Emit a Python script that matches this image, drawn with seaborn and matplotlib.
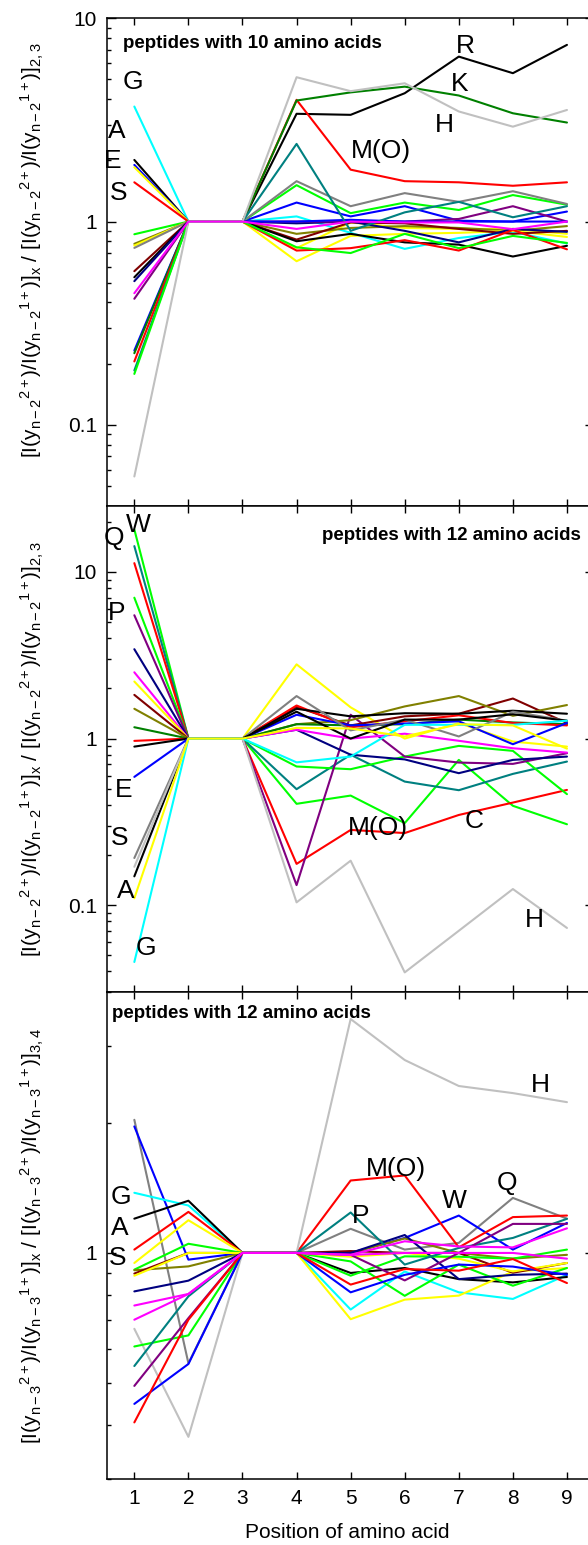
import matplotlib
matplotlib.use("Agg")
import matplotlib.pyplot as plt
import numpy as np
import pandas as pd
import seaborn as sns
from matplotlib.ticker import FixedLocator, FixedFormatter, NullFormatter

# ---------------- data ----------------
positions = [1, 2, 3, 4, 5, 6, 7, 8, 9]
x_tick_labels = ["1", "2", "3", "4", "5", "6", "7", "8", "9"]

COLORS = {
    "red": "#ff0000", "green": "#00ff00", "blue": "#0000ff", "magenta": "#ff00ff",
    "cyan": "#00ffff", "yellow": "#ffff00", "black": "#000000", "darkgreen": "#008000",
    "navy": "#000080", "maroon": "#800000", "purple": "#800080", "teal": "#008080",
    "olive": "#808000", "gray": "#808080", "silver": "#c0c0c0",
}

# panel 1: peptides with 10 amino acids (draw order = list order)
p1_names = ["cyan", "black", "blue", "yellow", "red", "green", "olive", "yellow2",
            "gray", "maroon", "black2", "navy", "purple", "blue2", "darkgreen",
            "red2", "teal", "green2", "silver", "magenta"]
p1_values = [
    [3.68, 1, 1, 1.06, 0.88, 0.734, 0.83, 0.89, 0.78],
    [2.01, 1, 1, 3.39, 3.35, 4.28, 6.48, 5.37, 7.40],
    [1.90, 1, 1, 1.24, 1.06, 1.19, 1.01, 1.00, 1.12],
    [1.85, 1, 1, 0.74, 0.99, 0.93, 0.92, 0.92, 0.87],
    [1.56, 1, 1, 3.97, 1.80, 1.58, 1.56, 1.50, 1.56],
    [0.866, 1, 1, 1.51, 1.10, 1.24, 1.14, 1.35, 1.21],
    [0.777, 1, 1, 0.87, 0.93, 0.95, 0.93, 0.90, 0.95],
    [0.762, 1, 1, 0.638, 0.85, 0.87, 0.88, 0.90, 0.84],
    [0.742, 1, 1, 1.58, 1.19, 1.38, 1.25, 1.41, 1.22],
    [0.570, 1, 1, 0.815, 0.99, 0.98, 0.92, 0.87, 0.90],
    [0.532, 1, 1, 0.80, 0.87, 0.79, 0.77, 0.673, 0.76],
    [0.509, 1, 1, 0.98, 1.00, 0.90, 0.79, 0.92, 0.89],
    [0.417, 1, 1, 1.00, 1.00, 1.00, 1.03, 1.19, 1.00],
    [0.232, 1, 1, 1.00, 1.02, 1.00, 1.00, 1.00, 1.00],
    [0.225, 1, 1, 3.94, 4.32, 4.61, 4.17, 3.41, 3.07],
    [0.205, 1, 1, 0.72, 0.74, 0.81, 0.72, 0.91, 0.73],
    [0.185, 1, 1, 2.41, 0.90, 1.11, 1.25, 1.05, 1.19],
    [0.178, 1, 1, 0.747, 0.70, 0.87, 0.74, 0.85, 0.785],
    [0.0557, 1, 1, 5.13, 4.38, 4.79, 3.48, 2.93, 3.54],
    [0.444, 1, 1, 0.92, 1.00, 0.99, 0.99, 0.917, 1.00],
]

# panel 2: peptides with 12 amino acids, ratio normalised to positions 2,3
p2_names = ["green2", "teal", "red2", "green", "purple", "navy", "magenta", "yellow",
            "maroon", "olive", "darkgreen", "red", "black", "blue", "gray", "black2",
            "silver", "cyan", "yellow2"]
p2_values = [
    [18.0, 1, 1, 0.406, 0.455, 0.311, 0.745, 0.395, 0.306],
    [14.3, 1, 1, 0.497, 0.80, 0.552, 0.49, 0.614, 0.728],
    [11.3, 1, 1, 0.177, 0.283, 0.271, 0.348, 0.413, 0.492],
    [7.01, 1, 1, 0.68, 0.655, 0.78, 0.904, 0.844, 0.464],
    [5.50, 1, 1, 0.132, 1.39, 0.78, 0.718, 0.705, 0.817],
    [3.44, 1, 1, 1.13, 0.80, 0.75, 0.62, 0.745, 0.78],
    [2.50, 1, 1, 1.13, 1.00, 1.07, 0.97, 0.875, 0.824],
    [2.20, 1, 1, 2.79, 1.54, 1.00, 1.24, 0.96, 0.895],
    [1.83, 1, 1, 1.55, 1.20, 1.36, 1.41, 1.74, 1.24],
    [1.51, 1, 1, 1.22, 1.29, 1.56, 1.80, 1.37, 1.59],
    [1.17, 1, 1, 1.22, 1.20, 1.22, 1.30, 1.25, 1.22],
    [0.969, 1, 1, 1.58, 1.17, 1.27, 1.38, 1.24, 1.20],
    [0.895, 1, 1, 1.51, 1.36, 1.42, 1.41, 1.47, 1.41],
    [0.589, 1, 1, 1.39, 1.20, 1.23, 1.27, 0.925, 1.24],
    [0.192, 1, 1, 1.80, 1.12, 1.30, 1.03, 1.45, 1.28],
    [0.149, 1, 1, 1.45, 1.00, 1.30, 1.30, 1.40, 1.28],
    [0.17, 1, 1, 0.104, 0.185, 0.0395, 0.0702, 0.125, 0.073],
    [0.0456, 1, 1, 0.72, 0.78, 1.21, 1.21, 1.21, 1.28],
    [0.110, 1, 1, 1.16, 1.15, 1.03, 1.22, 1.20, 0.87],
]

# panel 3: peptides with 12 amino acids, ratio normalised to positions 3,4
p3_names = ["gray", "blue", "cyan", "black", "red", "yellow", "green", "olive", "maroon",
            "yellow2", "navy", "silver", "green2", "teal", "purple", "blue2", "red2",
            "magenta2", "magenta"]
p3_values = [
    [2.03, 0.556, 1, 1, 1.137, 1.018, 1.055, 1.34, 1.20],
    [1.96, 0.965, 1, 1, 1.00, 1.083, 1.22, 1.018, 1.173],
    [1.377, 1.287, 1, 1, 0.74, 0.906, 0.811, 0.783, 0.89],
    [1.20, 1.32, 1, 1, 0.899, 0.923, 0.87, 0.855, 0.88],
    [1.018, 1.244, 1, 1, 1.47, 1.51, 1.03, 1.21, 1.22],
    [0.948, 1.19, 1, 1, 0.703, 0.78, 0.797, 0.906, 0.923],
    [0.915, 1.05, 1, 1, 0.956, 0.796, 0.94, 0.84, 0.923],
    [0.912, 0.931, 1, 1, 1.00, 1.08, 1.00, 0.97, 0.99],
    [0.896, 1.00, 1, 1, 1.01, 1.00, 1.00, 0.90, 0.948],
    [0.886, 1.00, 1, 1, 0.98, 1.00, 0.97, 0.906, 0.948],
    [0.815, 0.863, 1, 1, 1.00, 1.10, 0.87, 0.89, 0.896],
    [0.668, 0.376, 1, 1, 3.47, 2.79, 2.43, 2.34, 2.23],
    [0.608, 0.645, 1, 1, 0.886, 0.982, 0.98, 0.97, 1.018],
    [0.548, 0.794, 1, 1, 1.24, 0.94, 1.027, 1.083, 1.199],
    [0.493, 0.707, 1, 1, 0.99, 0.864, 1.00, 1.167, 1.167],
    [0.448, 0.554, 1, 1, 0.811, 0.89, 0.94, 0.93, 0.89],
    [0.406, 0.701, 1, 1, 0.845, 0.918, 0.91, 0.968, 0.852],
    [0.701, 0.804, 1, 1, 0.99, 1.00, 1.00, 1.00, 0.97],
    [0.756, 0.804, 1, 1, 0.99, 1.064, 1.035, 1.03, 1.14],
]

p1_title = "peptides with 10 amino acids"
p2_title = "peptides with 12 amino acids"
p3_title = "peptides with 12 amino acids"

ylab_n2 = (r"$[I(y_{n-2}{}^{2+})/I(y_{n-2}{}^{1+})]_{x}\ /\ "
           r"[I(y_{n-2}{}^{2+})/I(y_{n-2}{}^{1+})]_{2,3}$")
ylab_n3 = (r"$[I(y_{n-3}{}^{2+})/I(y_{n-3}{}^{1+})]_{x}\ /\ "
           r"[I(y_{n-3}{}^{2+})/I(y_{n-3}{}^{1+})]_{3,4}$")
xlab = "Position of amino acid"

# ---------------- style ----------------
sns.set_theme(style="ticks")
plt.rcParams["font.family"] = ["Liberation Sans", "DejaVu Sans"]
plt.rcParams.update({
    "mathtext.fontset": "custom",
    "mathtext.rm": "Liberation Sans",
    "mathtext.it": "Liberation Sans",
    "mathtext.bf": "Liberation Sans:bold",
    "mathtext.default": "rm",
    "axes.edgecolor": "black",
    "axes.linewidth": 1.1,
    "text.color": "black",
    "axes.labelcolor": "black",
    "xtick.color": "black",
    "ytick.color": "black",
})


def base_name(n):
    return n.rstrip("0123456789")


def long_frame(names, values):
    rows = []
    for n, vals in zip(names, values):
        for p, v in zip(positions, vals):
            rows.append({"series": n, "pos": p, "value": v})
    return pd.DataFrame(rows)


fig = plt.figure(figsize=(5.88, 15.45), dpi=100)
FW, FH = 588.0, 1545.0
left_px, right_px = 107.3, 594.0
panels_px = [(18.3, 505.7), (505.7, 992.3), (992.3, 1479.3)]
axes = []
for top, bot in panels_px:
    ax = fig.add_axes([left_px / FW, 1 - bot / FH, (right_px - left_px) / FW, (bot - top) / FH])
    axes.append(ax)

panel_data = [(p1_names, p1_values), (p2_names, p2_values), (p3_names, p3_values)]
ylims = [(0.04, 10), (0.03, 25), (0.3, 4)]
majors = [[0.1, 1, 10], [0.1, 1, 10], [1]]
major_labels = [["0.1", "1", "10"], ["0.1", "1", "10"], ["1"]]

for i, (ax, (names, values)) in enumerate(zip(axes, panel_data)):
    df = long_frame(names, values)
    pal = {n: COLORS[base_name(n)] for n in names}
    sns.lineplot(data=df, x="pos", y="value", hue="series", hue_order=names,
                 palette=pal, estimator=None, sort=False, legend=False,
                 linewidth=1.5, ax=ax)
    ax.set_yscale("log")
    ax.set_xlim(0.5, 9.5)
    ax.set_ylim(*ylims[i])
    ax.set_xlabel("")
    ax.set_ylabel("")
    ax.xaxis.set_major_locator(FixedLocator(positions))
    ax.xaxis.set_major_formatter(FixedFormatter(x_tick_labels))
    ax.yaxis.set_major_locator(FixedLocator(majors[i]))
    ax.yaxis.set_major_formatter(FixedFormatter(major_labels[i]))
    lo, hi = ylims[i]
    minors = [k * 10.0 ** e for e in range(-3, 3) for k in range(2, 10)
              if lo * 0.999 <= k * 10.0 ** e <= hi * 1.001]
    ax.yaxis.set_minor_locator(FixedLocator(minors))
    ax.yaxis.set_minor_formatter(NullFormatter())
    ax.xaxis.set_minor_locator(FixedLocator([]))
    ax.tick_params(axis="x", which="major", direction="in", top=True, bottom=True,
                   length=5, width=1, labelsize=15, pad=7,
                   labelbottom=(i == 2))
    ax.tick_params(axis="y", which="major", direction="in", left=True, right=True,
                   length=6.3, width=1, labelsize=15, pad=7.5)
    ax.tick_params(axis="y", which="minor", direction="in", left=True, right=True,
                   length=3.1, width=1)
    for s in ax.spines.values():
        s.set_linewidth(1.1)

# ---------------- annotations ----------------
LET = 19
a1, a2, a3 = axes
a1.text(0.033, 0.939, p1_title, transform=a1.transAxes, fontsize=13.5,
        fontweight="bold", ha="left", va="baseline")
for t, x, y in [("G", 0.972, 4.51), ("A", 0.677, 2.59), ("E", 0.603, 1.84),
                ("S", 0.713, 1.27), ("R", 7.13, 6.78), ("K", 7.02, 4.41),
                ("H", 6.74, 2.77), ("M(O)", 5.556, 2.06)]:
    a1.text(x, y, t, fontsize=LET, ha="center", va="baseline")

a2.text(0.9727, 0.9305, p2_title, transform=a2.transAxes, fontsize=13.5,
        fontweight="bold", ha="right", va="baseline")
for t, x, y in [("W", 1.065, 17.4), ("Q", 0.63, 14.5), ("P", 0.667, 5.15),
                ("E", 0.806, 0.447), ("S", 0.732, 0.230), ("A", 0.843, 0.111),
                ("G", 1.213, 0.0504), ("M(O)", 5.50, 0.264), ("C", 7.275, 0.291),
                ("H", 8.40, 0.0742)]:
    a2.text(x, y, t, fontsize=LET, ha="center", va="baseline")

a3.text(0.0103, 0.947, p3_title, transform=a3.transAxes, fontsize=13.5,
        fontweight="bold", ha="left", va="baseline")
for t, x, y in [("G", 0.750, 1.294), ("A", 0.732, 1.102), ("S", 0.695, 0.9395),
                ("H", 8.514, 2.35), ("M(O)", 5.834, 1.502), ("P", 5.187, 1.175),
                ("W", 6.924, 1.273), ("Q", 7.90, 1.401)]:
    a3.text(x, y, t, fontsize=LET, ha="center", va="baseline")

# axis labels
fig.text(32 / FW, 1 - 250 / FH, ylab_n2, rotation=90, ha="center", va="center", fontsize=15)
fig.text(32 / FW, 1 - 749 / FH, ylab_n2, rotation=90, ha="center", va="center", fontsize=15)
fig.text(32 / FW, 1 - 1236 / FH, ylab_n3, rotation=90, ha="center", va="center", fontsize=15)
fig.text(347.5 / FW, 1 - 1538 / FH, xlab, ha="center", va="baseline", fontsize=15)

fig.savefig("out.png", dpi=100)
